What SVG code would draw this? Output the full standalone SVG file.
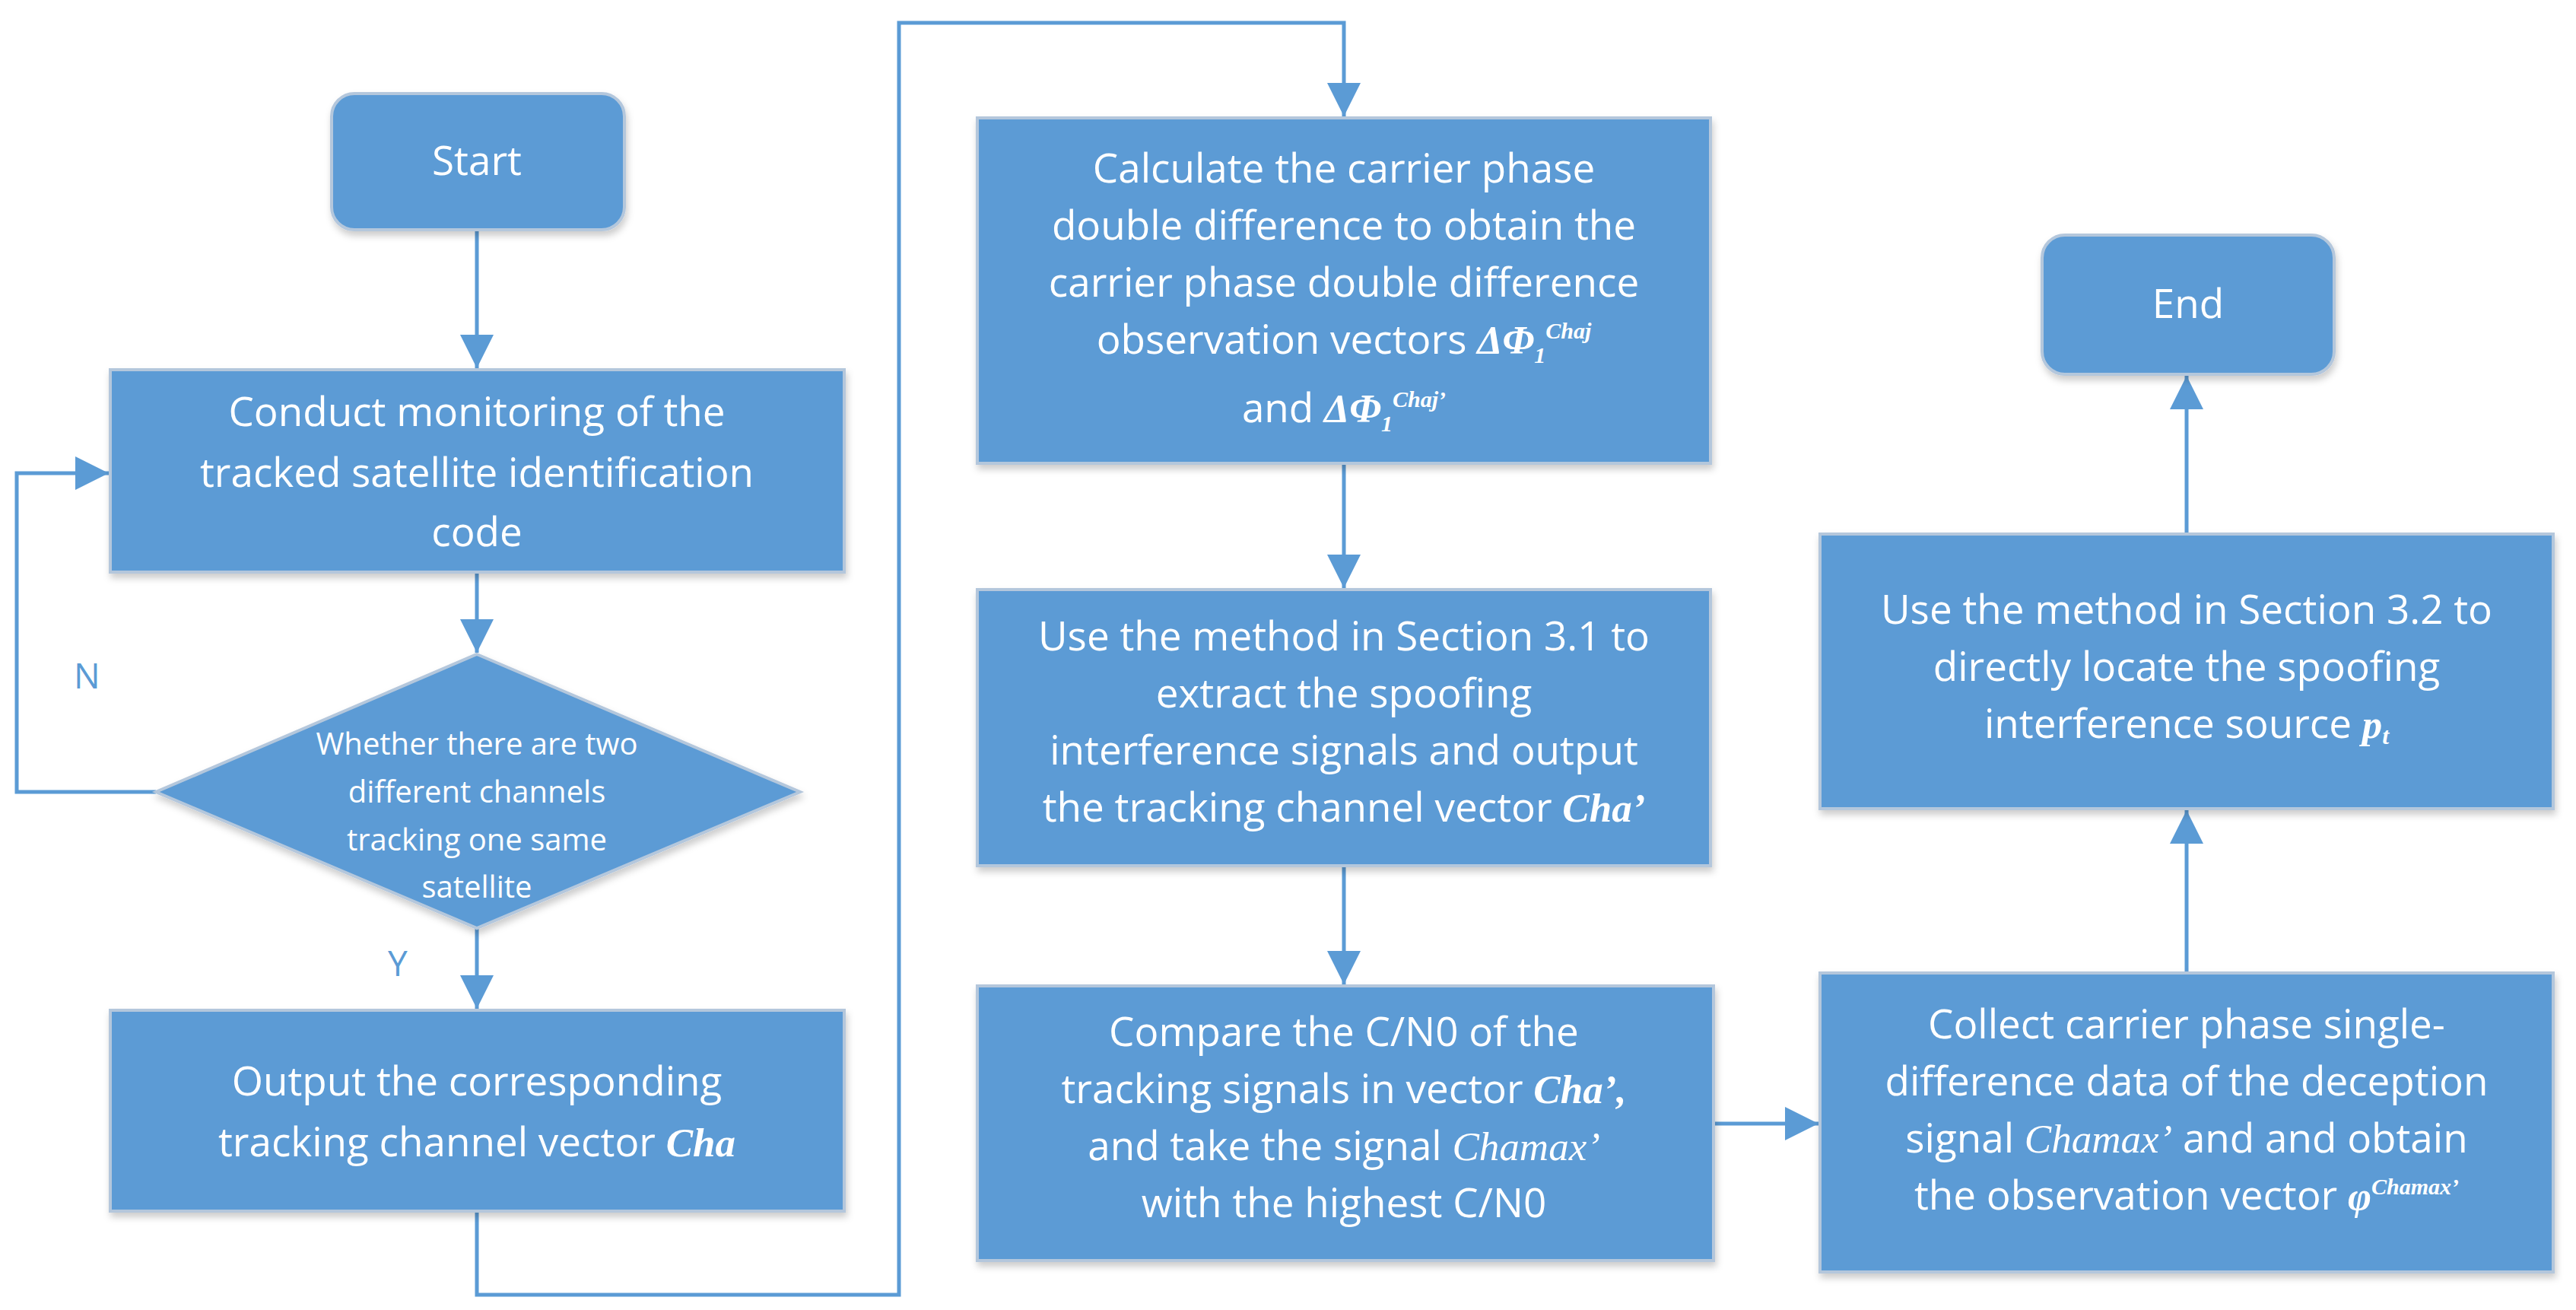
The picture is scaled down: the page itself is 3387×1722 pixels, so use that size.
<svg xmlns="http://www.w3.org/2000/svg" width="3387" height="1722" viewBox="0 0 3387 1722">
<defs>
<marker id="a" viewBox="0 0 10 10" refX="10" refY="5" markerWidth="44" markerHeight="44" markerUnits="userSpaceOnUse" orient="auto"><path d="M0,0 L10,5 L0,10 z" fill="#5b9bd5"/></marker>
<filter id="sh" x="-5%" y="-5%" width="110%" height="115%"><feDropShadow dx="2" dy="6" stdDeviation="5" flood-color="#000" flood-opacity="0.2"/></filter>
</defs>
<style>
.n{fill:#5b9bd5;stroke:#b4c7dc;stroke-width:4;filter:url(#sh)}
.t{font-family:"Open Sans","Liberation Sans",sans-serif;font-size:53px;fill:#fff;text-anchor:middle}
.s{font-size:40px}
.m{font-family:"Liberation Serif",serif;font-style:italic;font-weight:bold}
.mi{font-family:"Liberation Serif",serif;font-style:italic}
.c{fill:none;stroke:#5b9bd5;stroke-width:5}
.l{font-family:"Open Sans","Liberation Sans",sans-serif;font-size:46px;fill:#5b9bd5}
</style>
<rect width="3387" height="1722" fill="#fff"/>
<g id="connectors">
<path class="c" d="M627,302 V484" marker-end="url(#a)"/>
<path class="c" d="M627,752 V858" marker-end="url(#a)"/>
<path class="c" d="M205,1041 H22 V622 H143" marker-end="url(#a)"/>
<path class="c" d="M627,1220 V1326" marker-end="url(#a)"/>
<path class="c" d="M627,1592 V1702 H1182 V30 H1767 V153" marker-end="url(#a)"/>
<path class="c" d="M1767,609 V773" marker-end="url(#a)"/>
<path class="c" d="M1767,1138 V1294" marker-end="url(#a)"/>
<path class="c" d="M2253,1477 H2391" marker-end="url(#a)"/>
<path class="c" d="M2875,1279 V1065" marker-end="url(#a)"/>
<path class="c" d="M2875,702 V494" marker-end="url(#a)"/>
<text class="l" x="97" y="905">N</text>
<text class="l" x="510" y="1283">Y</text>
</g>
<g id="start"><rect class="n" x="436" y="123" width="385" height="179" rx="30"/><text class="t" x="627" y="230">Start</text></g>
<g id="monitor"><rect class="n" x="145" y="486" width="965" height="266"/>
<text class="t" x="627" y="560">Conduct monitoring of the</text>
<text class="t" x="627" y="640">tracked satellite identification</text>
<text class="t" x="627" y="718">code</text></g>
<g id="decision"><path class="n" d="M627,860 L1052,1041 L627,1220 L205,1041 z"/>
<text class="t s" x="627" y="992">Whether there are two</text>
<text class="t s" x="627" y="1055">different channels</text>
<text class="t s" x="627" y="1118">tracking one same</text>
<text class="t s" x="627" y="1180">satellite</text></g>
<g id="output"><rect class="n" x="145" y="1328" width="965" height="264"/>
<text class="t" x="627" y="1440">Output the corresponding</text>
<text class="t" x="627" y="1520">tracking channel vector <tspan class="m">Cha</tspan></text></g>
<g id="calc"><rect class="n" x="1285" y="155" width="964" height="454"/>
<text class="t" x="1767" y="240">Calculate the carrier phase</text>
<text class="t" x="1767" y="315">double difference to obtain the</text>
<text class="t" x="1767" y="390">carrier phase double difference</text>
<text class="t" x="1767" y="465">observation vectors <tspan class="m">ΔΦ</tspan><tspan class="m" font-size="30" dy="12">1</tspan><tspan class="m" font-size="30" dy="-32">Chaj</tspan></text>
<text class="t" x="1767" y="555">and <tspan class="m">ΔΦ</tspan><tspan class="m" font-size="30" dy="12">1</tspan><tspan class="m" font-size="30" dy="-32">Chaj’</tspan></text></g>
<g id="extract"><rect class="n" x="1285" y="775" width="964" height="363"/>
<text class="t" x="1767" y="855">Use the method in Section 3.1 to</text>
<text class="t" x="1767" y="930">extract  the spoofing</text>
<text class="t" x="1767" y="1005">interference signals  and output</text>
<text class="t" x="1767" y="1080">the tracking channel vector <tspan class="m">Cha’</tspan></text></g>
<g id="compare"><rect class="n" x="1285" y="1296" width="968" height="361"/>
<text class="t" x="1767" y="1375">Compare the C/N0 of the</text>
<text class="t" x="1767" y="1450">tracking signals in vector <tspan class="m">Cha’,</tspan></text>
<text class="t" x="1767" y="1525">and take the signal <tspan class="mi">Chamax’</tspan></text>
<text class="t" x="1767" y="1600">with the highest C/N0</text></g>
<g id="collect"><rect class="n" x="2393" y="1279" width="964" height="393"/>
<text class="t" x="2875" y="1365">Collect carrier phase single-</text>
<text class="t" x="2875" y="1440">difference data of the deception</text>
<text class="t" x="2875" y="1515">signal <tspan class="mi">Chamax’</tspan> and  and obtain</text>
<text class="t" x="2875" y="1590">the observation vector <tspan class="m">φ</tspan><tspan class="m" font-size="30" dy="-20">Chamax’</tspan></text></g>
<g id="locate"><rect class="n" x="2393" y="702" width="964" height="361"/>
<text class="t" x="2875" y="820">Use the method in Section 3.2 to</text>
<text class="t" x="2875" y="895">directly locate the spoofing</text>
<text class="t" x="2875" y="970">interference source <tspan class="m">p</tspan><tspan class="m" font-size="32" dy="8">t</tspan></text></g>
<g id="end"><rect class="n" x="2685" y="309" width="384" height="183" rx="30"/><text class="t" x="2877" y="418">End</text></g>
</svg>
